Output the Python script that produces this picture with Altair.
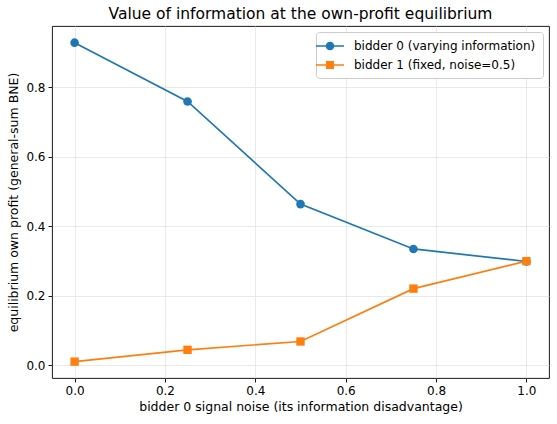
import altair as alt
import pandas as pd

noise = [0.0, 0.25, 0.5, 0.75, 1.0]
bidder0 = [0.928, 0.759, 0.464, 0.335, 0.299]
bidder1 = [0.011, 0.045, 0.069, 0.221, 0.300]
series = ["bidder 0 (varying information)", "bidder 1 (fixed, noise=0.5)"]
colors = ["#1f77b4", "#ff7f0e"]
x_ticks = [0.0, 0.2, 0.4, 0.6, 0.8, 1.0]
y_ticks = [0.0, 0.2, 0.4, 0.6, 0.8]

rows = []
for s, vals in zip(series, [bidder0, bidder1]):
    for x, y in zip(noise, vals):
        rows.append({"noise": x, "profit": y, "series": s})
df = pd.DataFrame(rows)

xenc = alt.X("noise:Q", scale=alt.Scale(domain=[-0.05, 1.05], nice=False, zero=False),
             axis=alt.Axis(values=x_ticks, format=".1f",
                           title="bidder 0 signal noise (its information disadvantage)"))
yenc = alt.Y("profit:Q", scale=alt.Scale(domain=[-0.036, 0.976], nice=False, zero=False),
             axis=alt.Axis(values=y_ticks, format=".1f",
                           title="equilibrium own profit (general-sum BNE)"))
cscale = alt.Scale(domain=series, range=colors)

base = alt.Chart(df)

# legend glyphs: a short filled bar (the line) plus the marker, all filled
circle_path = ("M-2,-0.12L2,-0.12L2,0.12L-2,0.12Z"
               "M0.62,0A0.62,0.62,0,1,1,-0.62,0A0.62,0.62,0,1,1,0.62,0Z")
square_path = ("M-2,-0.12L2,-0.12L2,0.12L-2,0.12Z"
               "M-0.58,-0.58L0.58,-0.58L0.58,0.58L-0.58,0.58Z")

leg = alt.Legend(title=None, orient="top-right", offset=6, padding=7,
                 strokeColor="#cccccc", fillColor="#ffffff",
                 cornerRadius=3, symbolSize=196, symbolStrokeWidth=0, symbolOpacity=1,
                 labelFontSize=12, labelFont="DejaVu Sans", labelColor="#000000",
                 labelOffset=17, rowPadding=6, labelLimit=400)

legend_layer = base.mark_point(size=1, filled=True, opacity=1).encode(
    x=xenc, y=yenc,
    color=alt.Color("series:N", scale=cscale, legend=leg),
    shape=alt.Shape("series:N", scale=alt.Scale(domain=series, range=[circle_path, square_path]), legend=leg),
)

lines = base.mark_line(strokeWidth=1.7).encode(
    x=xenc, y=yenc,
    color=alt.Color("series:N", scale=cscale),
    order="noise:Q",
)

pts0 = base.transform_filter(alt.datum.series == series[0]).mark_point(
    shape="circle", filled=True, size=75, opacity=1
).encode(x=xenc, y=yenc, color=alt.Color("series:N", scale=cscale))

pts1 = base.transform_filter(alt.datum.series == series[1]).mark_point(
    shape="square", filled=True, size=70, opacity=1
).encode(x=xenc, y=yenc, color=alt.Color("series:N", scale=cscale))

chart = alt.layer(legend_layer, lines, pts0, pts1).properties(
    width=497, height=352,
    title=alt.Title("Value of information at the own-profit equilibrium",
                    fontSize=15.5, font="DejaVu Sans", fontWeight="normal", color="#000000",
                    offset=4, anchor="middle"),
    autosize=alt.AutoSizeParams(type="none"),
    padding={"left": 52, "top": 26, "right": 8, "bottom": 46},
).configure_view(
    stroke="#000000", strokeWidth=0.9
).configure_axis(
    labelFont="DejaVu Sans", titleFont="DejaVu Sans", labelFontSize=12, titleFontSize=12.5,
    titleFontWeight="normal", labelColor="#000000", titleColor="#000000",
    grid=True, gridColor="#e3e3e3", gridWidth=0.8,
    domain=False, tickColor="#000000", tickSize=4, tickWidth=0.9, labelPadding=3,
).configure_axisX(titlePadding=4).configure_axisY(titlePadding=5)

chart.save("out.html", embed_options={"renderer": "svg", "actions": False})
